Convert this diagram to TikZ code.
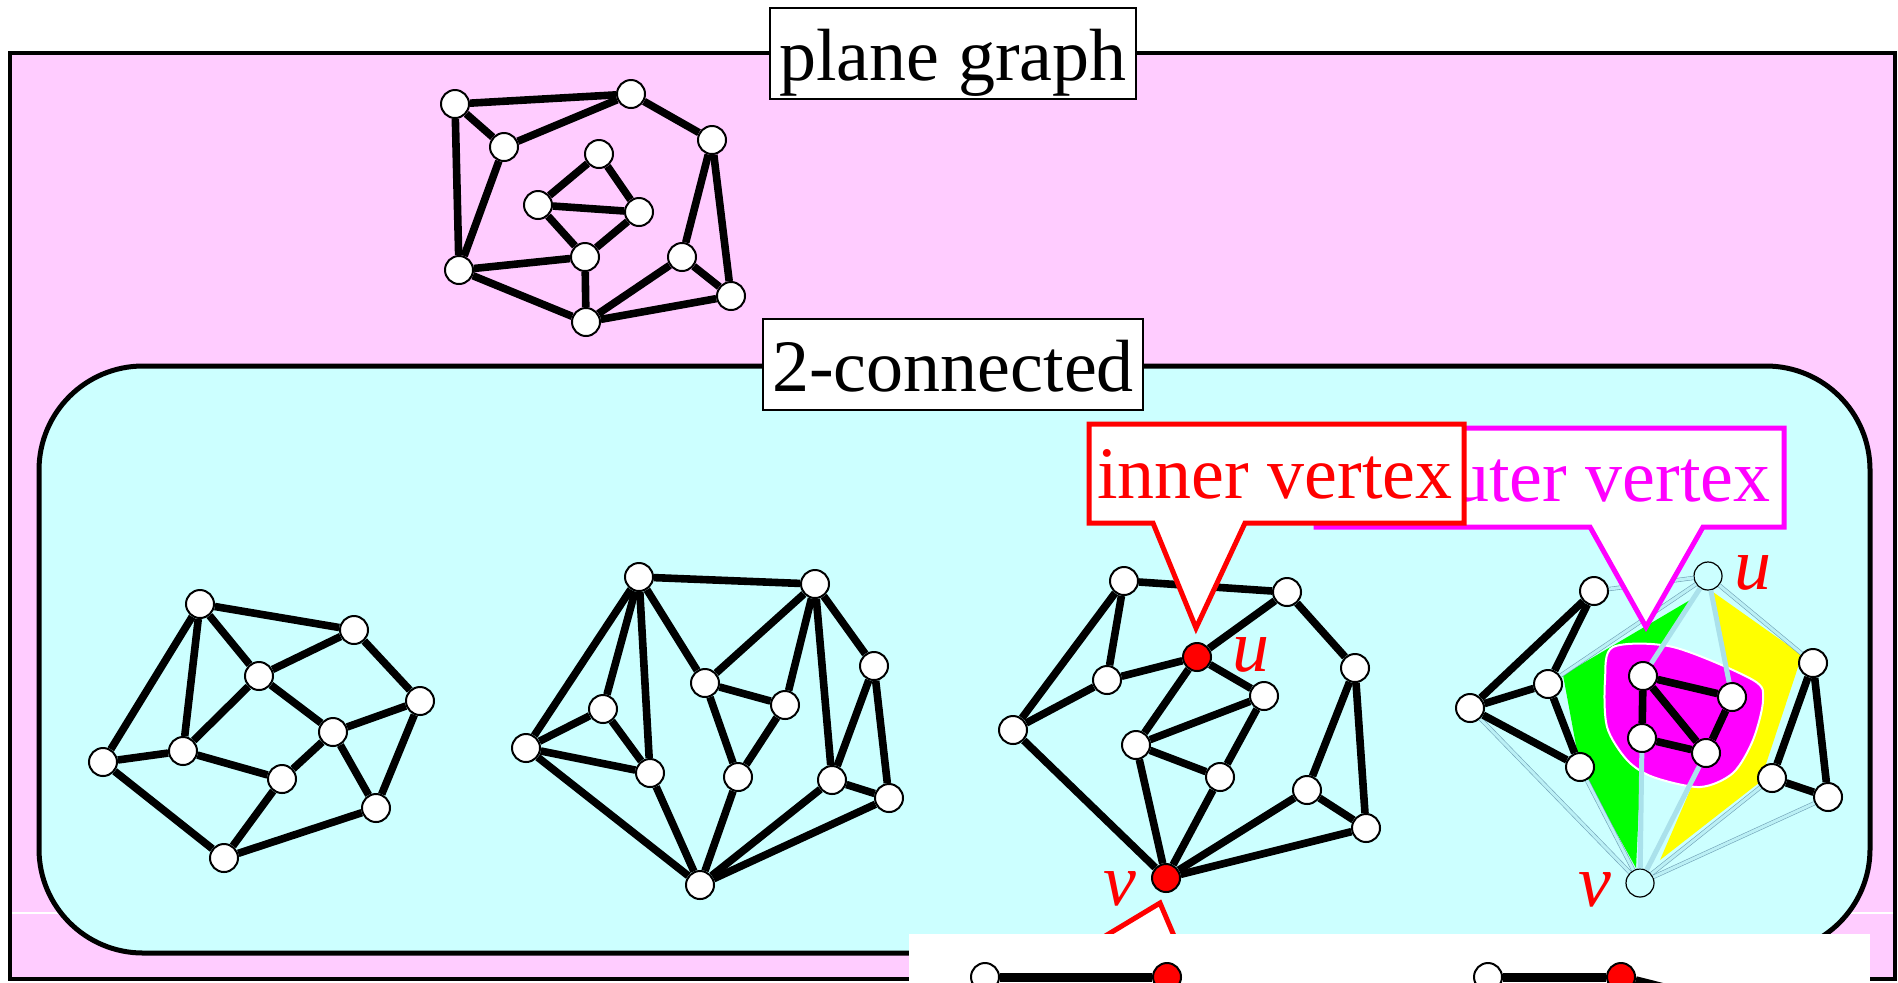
\documentclass[tikz,border=0pt]{standalone}
\usepackage{fontspec}
\setmainfont{Liberation Serif}
\usetikzlibrary{calc}

\definecolor{pinkbg}{RGB}{255,204,255}
\definecolor{cyanbg}{RGB}{204,255,255}
\definecolor{paleblue}{RGB}{170,225,235}
\definecolor{magfg}{RGB}{255,0,255}
\definecolor{yellowfg}{RGB}{255,255,0}
\definecolor{greenfg}{RGB}{0,255,0}
\definecolor{redfg}{RGB}{255,0,0}

\begin{document}
\begin{tikzpicture}[
        x=0.5pt, y=-0.5pt,
        font=\fontsize{37}{44}\selectfont,
        vert/.style={circle, draw=black, line width=1pt, fill=white, minimum size=14pt, inner sep=0pt},
        rvert/.style={vert, fill=redfg},
        hvert/.style={vert, fill=cyanbg, line width=0.6pt},
        gline/.style={line width=3.8pt},
        thinline/.style={draw=gray!60!cyan, line width=0.3pt, double=paleblue!50!cyanbg, double distance=1.5pt},
        paleline/.style={draw=paleblue, line width=2.5pt},
        titlebox/.style={draw=black, line width=1pt, fill=white, inner ysep=0pt, inner xsep=4.7pt, text height=36pt, text depth=9.5pt},
        lbl/.style={redfg, font=\fontsize{37}{44}\selectfont\itshape, inner sep=0pt}
    ]
        \useasboundingbox (0,0) rectangle (1898,982);
        \clip (0,0) rectangle (1898,982);

        % frames
        \draw[fill=pinkbg, line width=2pt] (10,53) rectangle (1895,979);
        \draw[white, line width=0.6pt] (12,913) -- (1893,913);
        \draw[fill=cyanbg, line width=2.5pt, rounded corners=52pt] (39,366) rectangle (1870,953);

        % plane graph
        \foreach \n/\x/\y in {t1/455/104, t2/631/94, t3/504/147, t4/712/140, t5/599/154, t6/538/205,
                t7/639/212, t8/585/257, t9/682/257, t10/459/270, t11/731/296, t12/586/322}
            \node[vert] (\n) at (\x,\y) {};
        \foreach \s/\t in {t1/t2, t1/t3, t2/t3, t2/t4, t1/t10, t3/t10, t5/t6, t5/t7, t6/t7, t6/t8,
                t7/t8, t10/t8, t10/t12, t8/t12, t4/t9, t4/t11, t9/t12, t9/t11, t12/t11}
            \draw[gline] (\s) -- (\t);

        % first 2-connected graph
        \foreach \n/\x/\y in {a1/200/604, a2/354/630, a3/259/676, a4/420/701, a5/103/762,
                a6/183/751, a7/333/732, a8/282/779, a9/376/808, a10/224/858}
            \node[vert] (\n) at (\x,\y) {};
        \foreach \s/\t in {a1/a2, a1/a3, a1/a6, a1/a5, a2/a3, a2/a4, a3/a6, a3/a7, a7/a4, a7/a8,
                a7/a9, a4/a9, a5/a6, a6/a8, a5/a10, a8/a10, a10/a9}
            \draw[gline] (\s) -- (\t);

        % second
        \foreach \n/\x/\y in {b1/639/577, b2/815/584, b3/705/683, b4/874/666, b5/603/709, b6/785/705,
                b7/526/748, b8/650/773, b9/738/777, b10/832/780, b11/889/798, b12/700/885}
            \node[vert] (\n) at (\x,\y) {};
        \foreach \s/\t in {b1/b2, b1/b7, b1/b5, b1/b8, b1/b3, b2/b3, b2/b6, b2/b10, b2/b4, b3/b6,
                b3/b9, b6/b9, b4/b10, b4/b11, b5/b7, b5/b8, b7/b8, b7/b12, b8/b12, b9/b12,
                b10/b12, b10/b11, b11/b12}
            \draw[gline] (\s) -- (\t);

        % third, with u and v
        \foreach \n/\x/\y in {c1/1124/581, c2/1287/592, c4/1355/668, c5/1107/680, c6/1264/696,
                c7/1013/730, c8/1136/745, c9/1220/777, c10/1307/790, c11/1366/828}
            \node[vert] (\n) at (\x,\y) {};
        \node[rvert] (cu) at (1197,657) {};
        \node[rvert] (cv) at (1166,878) {};
        \foreach \s/\t in {c1/c2, c1/c7, c1/c5, c2/cu, c2/c4, c5/cu, c5/c7, cu/c6, cu/c8, c6/c8,
                c6/c9, c8/c9, c8/cv, c9/cv, c7/cv, c4/c10, c4/c11, c10/c11, c10/cv, c11/cv}
            \draw[gline] (\s) -- (\t);
        \node[lbl] (ulbl3) at (1251,655) {u};
        \node[lbl] (vlbl3) at (1120,889) {v};

        % fourth, split at u and v
        \fill[yellowfg] (1713,592) -- (1802,655) -- (1760,782) -- (1660,860) -- (1706,753) -- (1732,697) -- cycle;
        \fill[greenfg] (1690,600) -- (1563,675) -- (1580,767) -- (1636,868) -- (1642,740) -- (1647,673) -- cycle;
        \draw[white, line width=1pt, fill=magfg] plot[smooth cycle] coordinates {(1613,647) (1673,647)
            (1753,680) (1763,700) (1753,740) (1733,773) (1700,787) (1653,777) (1627,760) (1607,727) (1605,680)};
        \foreach \n/\x/\y in {d1/1594/591, d3/1548/684, d4/1470/708, d5/1580/767, d6/1643/676,
                d7/1732/697, d8/1642/738, d9/1706/753, d10/1813/663, d11/1772/778, d12/1828/797}
            \node[vert] (\n) at (\x,\y) {};
        \node[hvert] (du) at (1708,576) {};
        \node[hvert] (dv) at (1640,883) {};
        \foreach \s/\t in {du/d1, du/d3, du/d10, d4/dv, d5/dv, d11/dv, d12/dv}
            \draw[thinline] (\s) -- (\t);
        \foreach \s/\t in {du/d6, du/d7, dv/d8, dv/d9}
            \draw[paleline] (\s) -- (\t);
        \foreach \s/\t in {d1/d4, d1/d3, d3/d4, d4/d5, d3/d5, d6/d7, d6/d8, d6/d9, d7/d9, d8/d9,
                d10/d11, d10/d12, d11/d12}
            \draw[gline] (\s) -- (\t);
        \node[lbl] (ulbl4) at (1753,573) {u};
        \node[lbl] (vlbl4) at (1595,890) {v};

        % callouts
        \draw[magfg, line width=2.5pt, fill=white] (1316,428) -- (1784,428) -- (1784,527) -- (1703,527)
            -- (1646,627) -- (1590,527) -- (1316,527) -- cycle;
        \node[magfg, anchor=base] (outertxt) at (1593,501) {outer vertex};
        \draw[redfg, line width=2.5pt, fill=white] (1089,424) -- (1464,424) -- (1464,523) -- (1245,523)
            -- (1196,628) -- (1153,523) -- (1089,523) -- cycle;
        \node[redfg, anchor=base] (innertxt) at (1275,498) {inner vertex};
        \draw[redfg, line width=2.5pt, fill=white] (1082,950) -- (1160,903) -- (1180,950);

        % next panel, cut off
        \fill[white] (909,934) rectangle (1870,995);
        \node[vert] (e1) at (985,977) {};
        \node[rvert] (e2) at (1167,977) {};
        \node[vert] (e3) at (1488,977) {};
        \node[rvert] (e4) at (1621,977) {};
        \coordinate (e5) at (1760,1012);
        \draw[line width=4.5pt] (e1) -- (e2);
        \draw[line width=4.5pt] (e3) -- (e4);
        \draw[line width=4.5pt] (e4) -- (e5);

        \node[titlebox] (planelbl) at (953,53.5) {plane graph};
        \node[titlebox] (twoconlbl) at (953,364.5) {2-connected};
    \end{tikzpicture}
\end{document}
